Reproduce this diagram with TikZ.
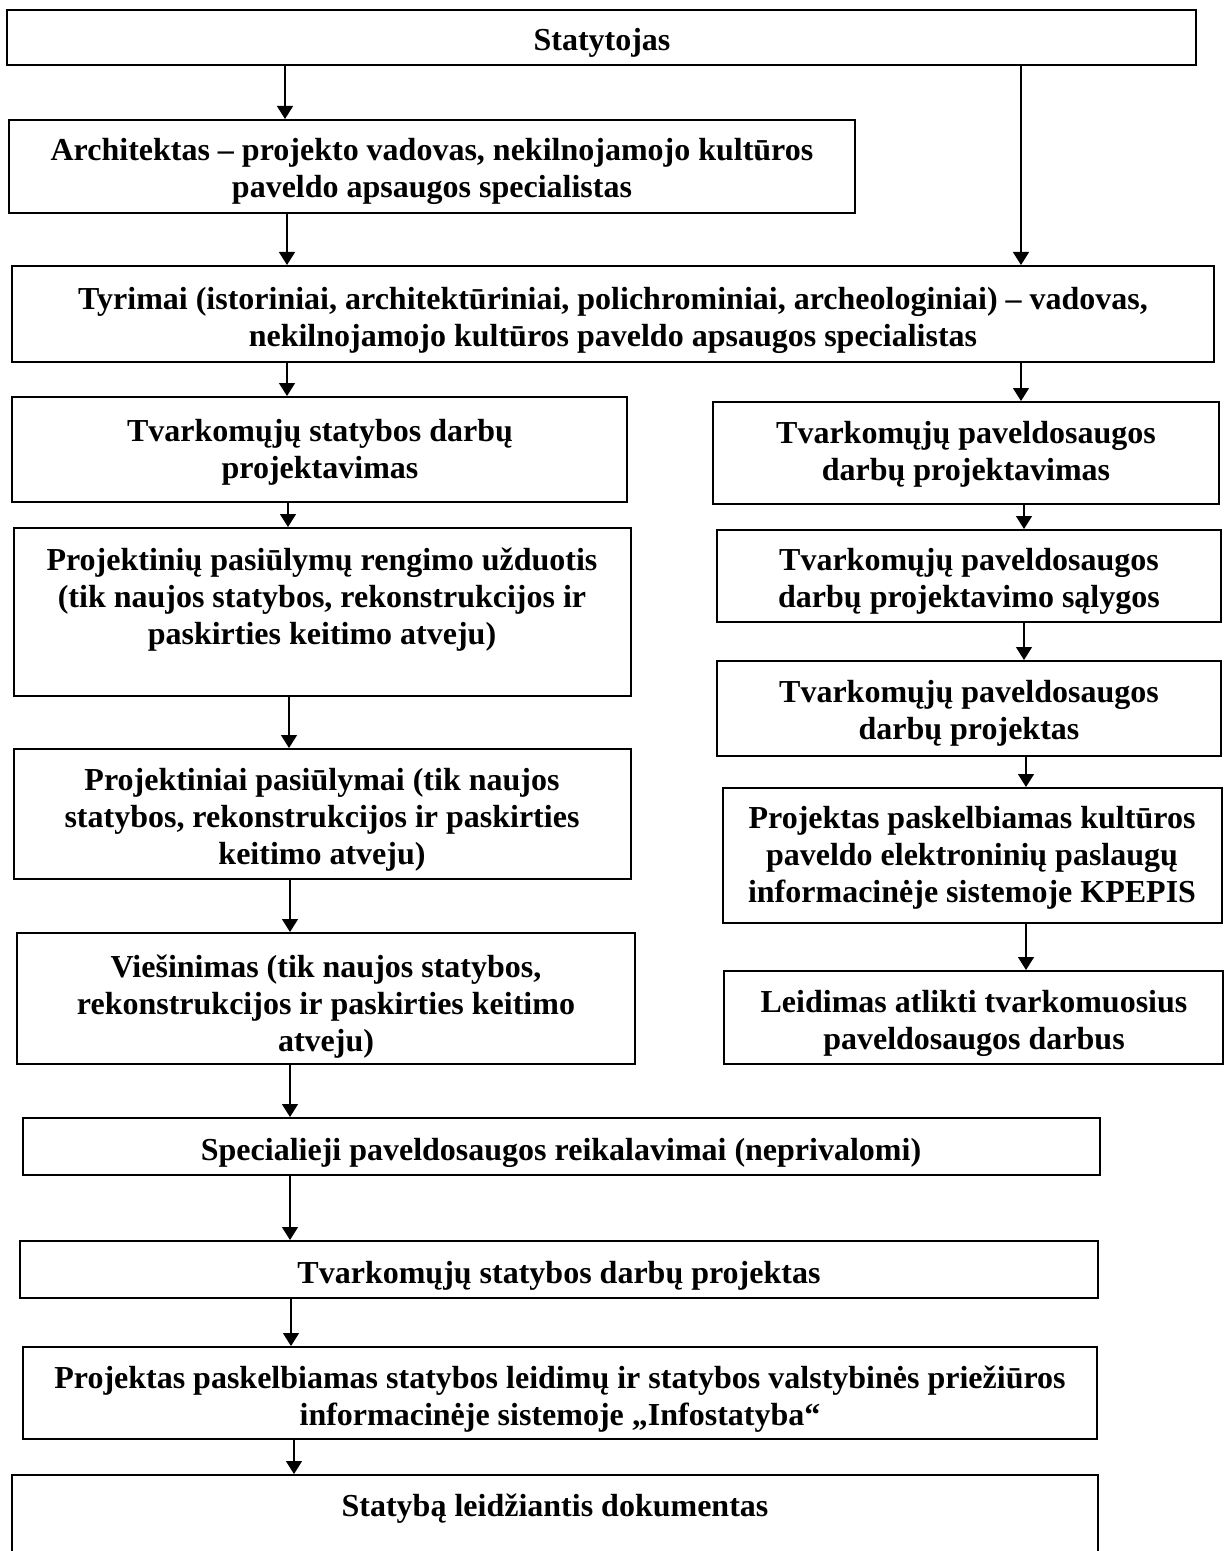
\documentclass[tikz,border=0pt]{standalone}
\usepackage{fontspec}
\setmainfont{Liberation Serif}
\usetikzlibrary{arrows.meta,fit}
\begin{document}
\begin{tikzpicture}[x=0.5pt,y=-0.5pt,
  box/.style={draw, line width=1pt, inner sep=0pt},
  txt/.style={font=\bfseries\fontsize{16}{18.5}\selectfont, align=center, inner sep=0pt, yshift=-1.5pt},
  arr/.style={line width=0.7pt, -{Triangle[length=6.5pt,width=8pt]}}]
\path[use as bounding box, clip] (0,0) rectangle (1226,1551);
\fill[white] (0,0) rectangle (1226,1551);
% boxes
\node[box, fit={(7,10) (1196,65)}] (st) {};
\node[box, fit={(9,120) (855,213)}] (ar) {};
\node[box, fit={(12,266) (1214,362)}] (ty) {};
\node[box, fit={(12,397) (627,502)}] (l1) {};
\node[box, fit={(713,402) (1219,504)}] (r1) {};
\node[box, fit={(14,528) (631,696)}] (l2) {};
\node[box, fit={(717,530) (1221,622)}] (r2) {};
\node[box, fit={(717,661) (1221,756)}] (r3) {};
\node[box, fit={(14,749) (631,879)}] (l3) {};
\node[box, fit={(723,788) (1222,923)}] (r4) {};
\node[box, fit={(17,933) (635,1064)}] (l4) {};
\node[box, fit={(724,971) (1223,1064)}] (r5) {};
\node[box, fit={(23,1118) (1100,1175)}] (sp) {};
\node[box, fit={(20,1241) (1098,1298)}] (tp) {};
\node[box, fit={(23,1347) (1097,1439)}] (pp) {};
\node[box, fit={(12,1475) (1098,1600)}] (sd) {};
% texts
\node[txt] (st-t) at (602,40) {Statytojas};
\node[txt] (ar-t) at (432,168) {Architektas – projekto vadovas, nekilnojamojo kultūros\\paveldo apsaugos specialistas};
\node[txt] (ty-t) at (613,317) {Tyrimai (istoriniai, architektūriniai, polichrominiai, archeologiniai) – vadovas,\\nekilnojamojo kultūros paveldo apsaugos specialistas};
\node[txt] (l1-t) at (320,449) {Tvarkomųjų statybos darbų\\projektavimas};
\node[txt] (r1-t) at (966,451) {Tvarkomųjų paveldosaugos\\darbų projektavimas};
\node[txt] (l2-t) at (322,597) {Projektinių pasiūlymų rengimo užduotis\\(tik naujos statybos, rekonstrukcijos ir\\paskirties keitimo atveju)};
\node[txt] (r2-t) at (969,578) {Tvarkomųjų paveldosaugos\\darbų projektavimo sąlygos};
\node[txt] (r3-t) at (969,710) {Tvarkomųjų paveldosaugos\\darbų projektas};
\node[txt] (l3-t) at (322,817) {Projektiniai pasiūlymai (tik naujos\\statybos, rekonstrukcijos ir paskirties\\keitimo atveju)};
\node[txt] (r4-t) at (972,855) {Projektas paskelbiamas kultūros\\paveldo elektroninių paslaugų\\informacinėje sistemoje KPEPIS};
\node[txt] (l4-t) at (326,1004) {Viešinimas (tik naujos statybos,\\rekonstrukcijos ir paskirties keitimo\\atveju)};
\node[txt] (r5-t) at (974,1020) {Leidimas atlikti tvarkomuosius\\paveldosaugos darbus};
\node[txt] (sp-t) at (561,1150) {Specialieji paveldosaugos reikalavimai (neprivalomi)};
\node[txt] (tp-t) at (559,1273) {Tvarkomųjų statybos darbų projektas};
\node[txt] (pp-t) at (560,1396) {Projektas paskelbiamas statybos leidimų ir statybos valstybinės priežiūros\\informacinėje sistemoje „Infostatyba“};
\node[txt] (sd-t) at (555,1506) {Statybą leidžiantis dokumentas};
% arrow columns
\coordinate (xa) at (285,0);
\coordinate (xb) at (1021,0);
\coordinate (xc) at (287,0);
\coordinate (xd) at (288,0);
\coordinate (xe) at (289,0);
\coordinate (xf) at (290,0);
\coordinate (xg) at (291,0);
\coordinate (xh) at (294,0);
\coordinate (xi) at (1024,0);
\coordinate (xj) at (1026,0);
% arrows
\draw[arr] (st.south -| xa) -- (ar.north -| xa);
\draw[arr] (st.south -| xb) -- (ty.north -| xb);
\draw[arr] (ar.south -| xc) -- (ty.north -| xc);
\draw[arr] (ty.south -| xc) -- (l1.north -| xc);
\draw[arr] (ty.south -| xb) -- (r1.north -| xb);
\draw[arr] (l1.south -| xd) -- (l2.north -| xd);
\draw[arr] (l2.south -| xe) -- (l3.north -| xe);
\draw[arr] (l3.south -| xf) -- (l4.north -| xf);
\draw[arr] (l4.south -| xf) -- (sp.north -| xf);
\draw[arr] (sp.south -| xf) -- (tp.north -| xf);
\draw[arr] (tp.south -| xg) -- (pp.north -| xg);
\draw[arr] (pp.south -| xh) -- (sd.north -| xh);
\draw[arr] (r1.south -| xi) -- (r2.north -| xi);
\draw[arr] (r2.south -| xi) -- (r3.north -| xi);
\draw[arr] (r3.south -| xj) -- (r4.north -| xj);
\draw[arr] (r4.south -| xj) -- (r5.north -| xj);
\end{tikzpicture}
\end{document}
